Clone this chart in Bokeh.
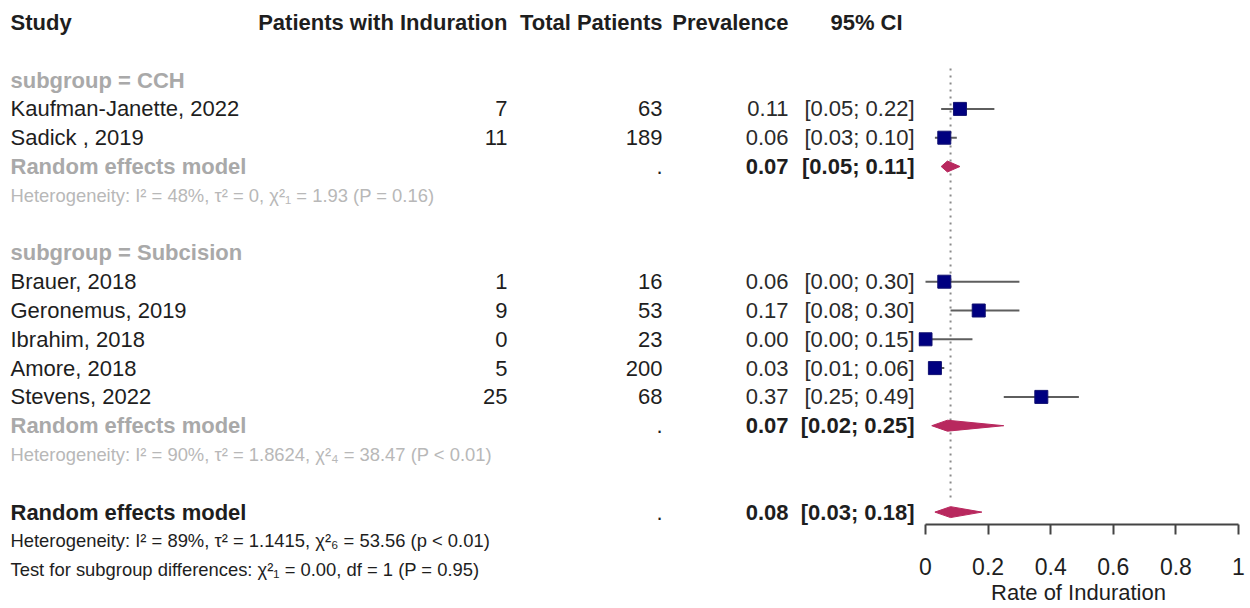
from bokeh.plotting import figure
from bokeh.layouts import row
from bokeh.models import Range1d, ColumnDataSource, FixedTicker, CustomJSTickFormatter
from bokeh.core.properties import value
from bokeh.embed import file_html
from bokeh.resources import INLINE

# ---------------- data ----------------
studies = ["Kaufman-Janette, 2022", "Sadick , 2019", "Brauer, 2018", "Geronemus, 2019",
           "Ibrahim, 2018", "Amore, 2018", "Stevens, 2022"]
study_group = ["CCH", "CCH", "Subcision", "Subcision", "Subcision", "Subcision", "Subcision"]
events = [7, 11, 1, 9, 0, 5, 25]
totals = [63, 189, 16, 53, 23, 200, 68]
prev = [0.11, 0.06, 0.06, 0.17, 0.00, 0.03, 0.37]
lower = [0.05, 0.03, 0.00, 0.08, 0.00, 0.01, 0.25]
upper = [0.22, 0.10, 0.30, 0.30, 0.15, 0.06, 0.49]

groups = ["CCH", "Subcision"]
group_est = [0.07, 0.07]
group_lo = [0.05, 0.02]
group_hi = [0.11, 0.25]
group_het = ["Heterogeneity: I² = 48%, τ² = 0, χ²₁ = 1.93 (P = 0.16)",
             "Heterogeneity: I² = 90%, τ² = 1.8624, χ²₄ = 38.47 (P < 0.01)"]

overall_est = 0.08
overall_lo = 0.03
overall_hi = 0.18
overall_het = "Heterogeneity: I² = 89%, τ² = 1.1415, χ²₆ = 53.56 (p < 0.01)"
subgroup_test = "Test for subgroup differences: χ²₁ = 0.00, df = 1 (P = 0.95)"

headers = ["Study", "Patients with Induration", "Total Patients", "Prevalence", "95% CI"]
xticks = [0, 0.2, 0.4, 0.6, 0.8, 1]
axis_title = "Rate of Induration"

# ---------------- row layout ----------------
study_rows, group_label_rows, group_model_rows, group_het_rows = [], [], [], []
r = 2
for g in groups:
    group_label_rows.append(r)
    r += 1
    for s, sg in zip(studies, study_group):
        if sg == g:
            study_rows.append(r)
            r += 1
    group_model_rows.append(r)
    group_het_rows.append(r + 1)
    r += 3
overall_row = r
overall_het_row = r + 1
test_row = r + 2

FONT = value("Liberation Sans")
ROW_PX = 28.8
TOP = -22 / ROW_PX
H = 608
W_LEFT = 918
W_RIGHT = 332
AXIS_H = 84

BLACK = "#1e1e1e"
GREY = "#a9a9a9"
GREY_HET = "#b8b8b8"
MAIN_FS = "22px"
HET_FS = "18.4px"

# column anchors (left figure x units = pixels)
X_STUDY = 10
X_EVENTS = 507
X_TOTAL = 662
X_PREV = 788
X_CI = 914
X_CI_HEAD = 866

left = figure(width=W_LEFT, height=H, output_backend="svg", toolbar_location=None,
              x_range=Range1d(0, W_LEFT), y_range=Range1d(TOP + H / ROW_PX, TOP),
              x_axis_location=None, y_axis_location=None, min_border=0,
              frame_align=False)
left.grid.visible = False
left.outline_line_color = None


def txt(fig, xs, ys, texts, align="left", bold=False, color=BLACK, size=MAIN_FS):
    src = ColumnDataSource(dict(x=list(xs), y=list(ys), t=list(texts)))
    fig.text(x="x", y="y", text="t", source=src, text_font=FONT,
             text_font_size=size, text_font_style="bold" if bold else "normal",
             text_color=color, text_align=align, text_baseline="middle")


# headers
txt(left, [X_STUDY], [0], [headers[0]], "left", True)
txt(left, [X_EVENTS, X_TOTAL, X_PREV], [0, 0, 0], headers[1:4], "right", True)
txt(left, [X_CI_HEAD], [0], [headers[4]], "center", True)

# subgroup labels
txt(left, [X_STUDY] * len(groups), group_label_rows,
    ["subgroup = " + g for g in groups], "left", True, GREY)

# studies
n = len(studies)
txt(left, [X_STUDY] * n, study_rows, studies, "left")
txt(left, [X_EVENTS] * n, study_rows, [str(e) for e in events], "right")
txt(left, [X_TOTAL] * n, study_rows, [str(t) for t in totals], "right")
txt(left, [X_PREV] * n, study_rows, [f"{v:.2f}" for v in prev], "right", color="#2a2a2a")
txt(left, [X_CI] * n, study_rows, [f"[{a:.2f}; {b:.2f}]" for a, b in zip(lower, upper)],
    "right", color="#2a2a2a")

# subgroup models
g_n = len(groups)
txt(left, [X_STUDY] * g_n, group_model_rows, ["Random effects model"] * g_n, "left", True, GREY)
txt(left, [X_TOTAL] * g_n, group_model_rows, ["."] * g_n, "right")
txt(left, [X_PREV] * g_n, group_model_rows, [f"{v:.2f}" for v in group_est], "right", True)
txt(left, [X_CI] * g_n, group_model_rows,
    [f"[{a:.2f}; {b:.2f}]" for a, b in zip(group_lo, group_hi)], "right", True)
txt(left, [X_STUDY] * g_n, group_het_rows, group_het, "left", False, GREY_HET, HET_FS)

# overall
txt(left, [X_STUDY], [overall_row], ["Random effects model"], "left", True)
txt(left, [X_TOTAL], [overall_row], ["."], "right")
txt(left, [X_PREV], [overall_row], [f"{overall_est:.2f}"], "right", True)
txt(left, [X_CI], [overall_row], [f"[{overall_lo:.2f}; {overall_hi:.2f}]"], "right", True)
txt(left, [X_STUDY, X_STUDY], [overall_het_row, test_row], [overall_het, subgroup_test],
    "left", False, BLACK, HET_FS)

# ---------------- forest panel ----------------
frame_h = H - AXIS_H
right = figure(width=W_RIGHT, height=H, output_backend="svg", toolbar_location=None,
               x_range=Range1d(-0.0224, 1.0), y_range=Range1d(TOP + frame_h / ROW_PX, TOP),
               y_axis_location=None, min_border_left=0, min_border_right=12,
               min_border_top=0, min_border_bottom=AXIS_H, frame_align=False)
right.grid.visible = False
right.outline_line_color = None

# reference (overall) dotted line
right.segment(x0=[overall_est], x1=[overall_est], y0=[1.6], y1=[overall_row - 0.45],
              line_color="#8a8a8a", line_width=2, line_dash="2 5")

# CIs and squares
right.segment(x0=lower, x1=upper, y0=study_rows, y1=study_rows,
              line_color="#5e5e5e", line_width=2)
right.scatter(x=prev, y=study_rows, marker="square", size=13,
              fill_color="#000080", line_color="#101070", line_width=1)

# diamonds
DH = 0.19
est_all = group_est + [overall_est]
lo_all = group_lo + [overall_lo]
hi_all = group_hi + [overall_hi]
rows_all = group_model_rows + [overall_row]
xs = [[a, m, b, m] for a, m, b in zip(lo_all, est_all, hi_all)]
ys = [[y, y - DH, y, y + DH] for y in rows_all]
right.patches(xs=xs, ys=ys, fill_color="#b8285e", line_color="#b8285e", line_width=1)

ax = right.xaxis[0]
ax.bounds = (0, 1)
ax.ticker = FixedTicker(ticks=xticks)
ax.formatter = CustomJSTickFormatter(code="return String(Math.round(tick * 10) / 10);")
ax.axis_label = axis_title
ax.axis_label_text_font = "Liberation Sans"
ax.axis_label_text_font_style = "normal"
ax.axis_label_text_font_size = "22px"
ax.axis_label_text_color = BLACK
ax.axis_label_standoff = 2
ax.major_label_text_font = "Liberation Sans"
ax.major_label_text_font_size = "23px"
ax.major_label_text_color = BLACK
ax.major_label_standoff = 23
ax.axis_line_color = "#444444"
ax.axis_line_width = 2
ax.major_tick_line_color = "#444444"
ax.major_tick_line_width = 2
ax.major_tick_out = 10
ax.major_tick_in = 0
ax.minor_tick_line_color = None

layout = row(left, right, spacing=0)
open("out.html", "w").write(file_html(layout, INLINE))
